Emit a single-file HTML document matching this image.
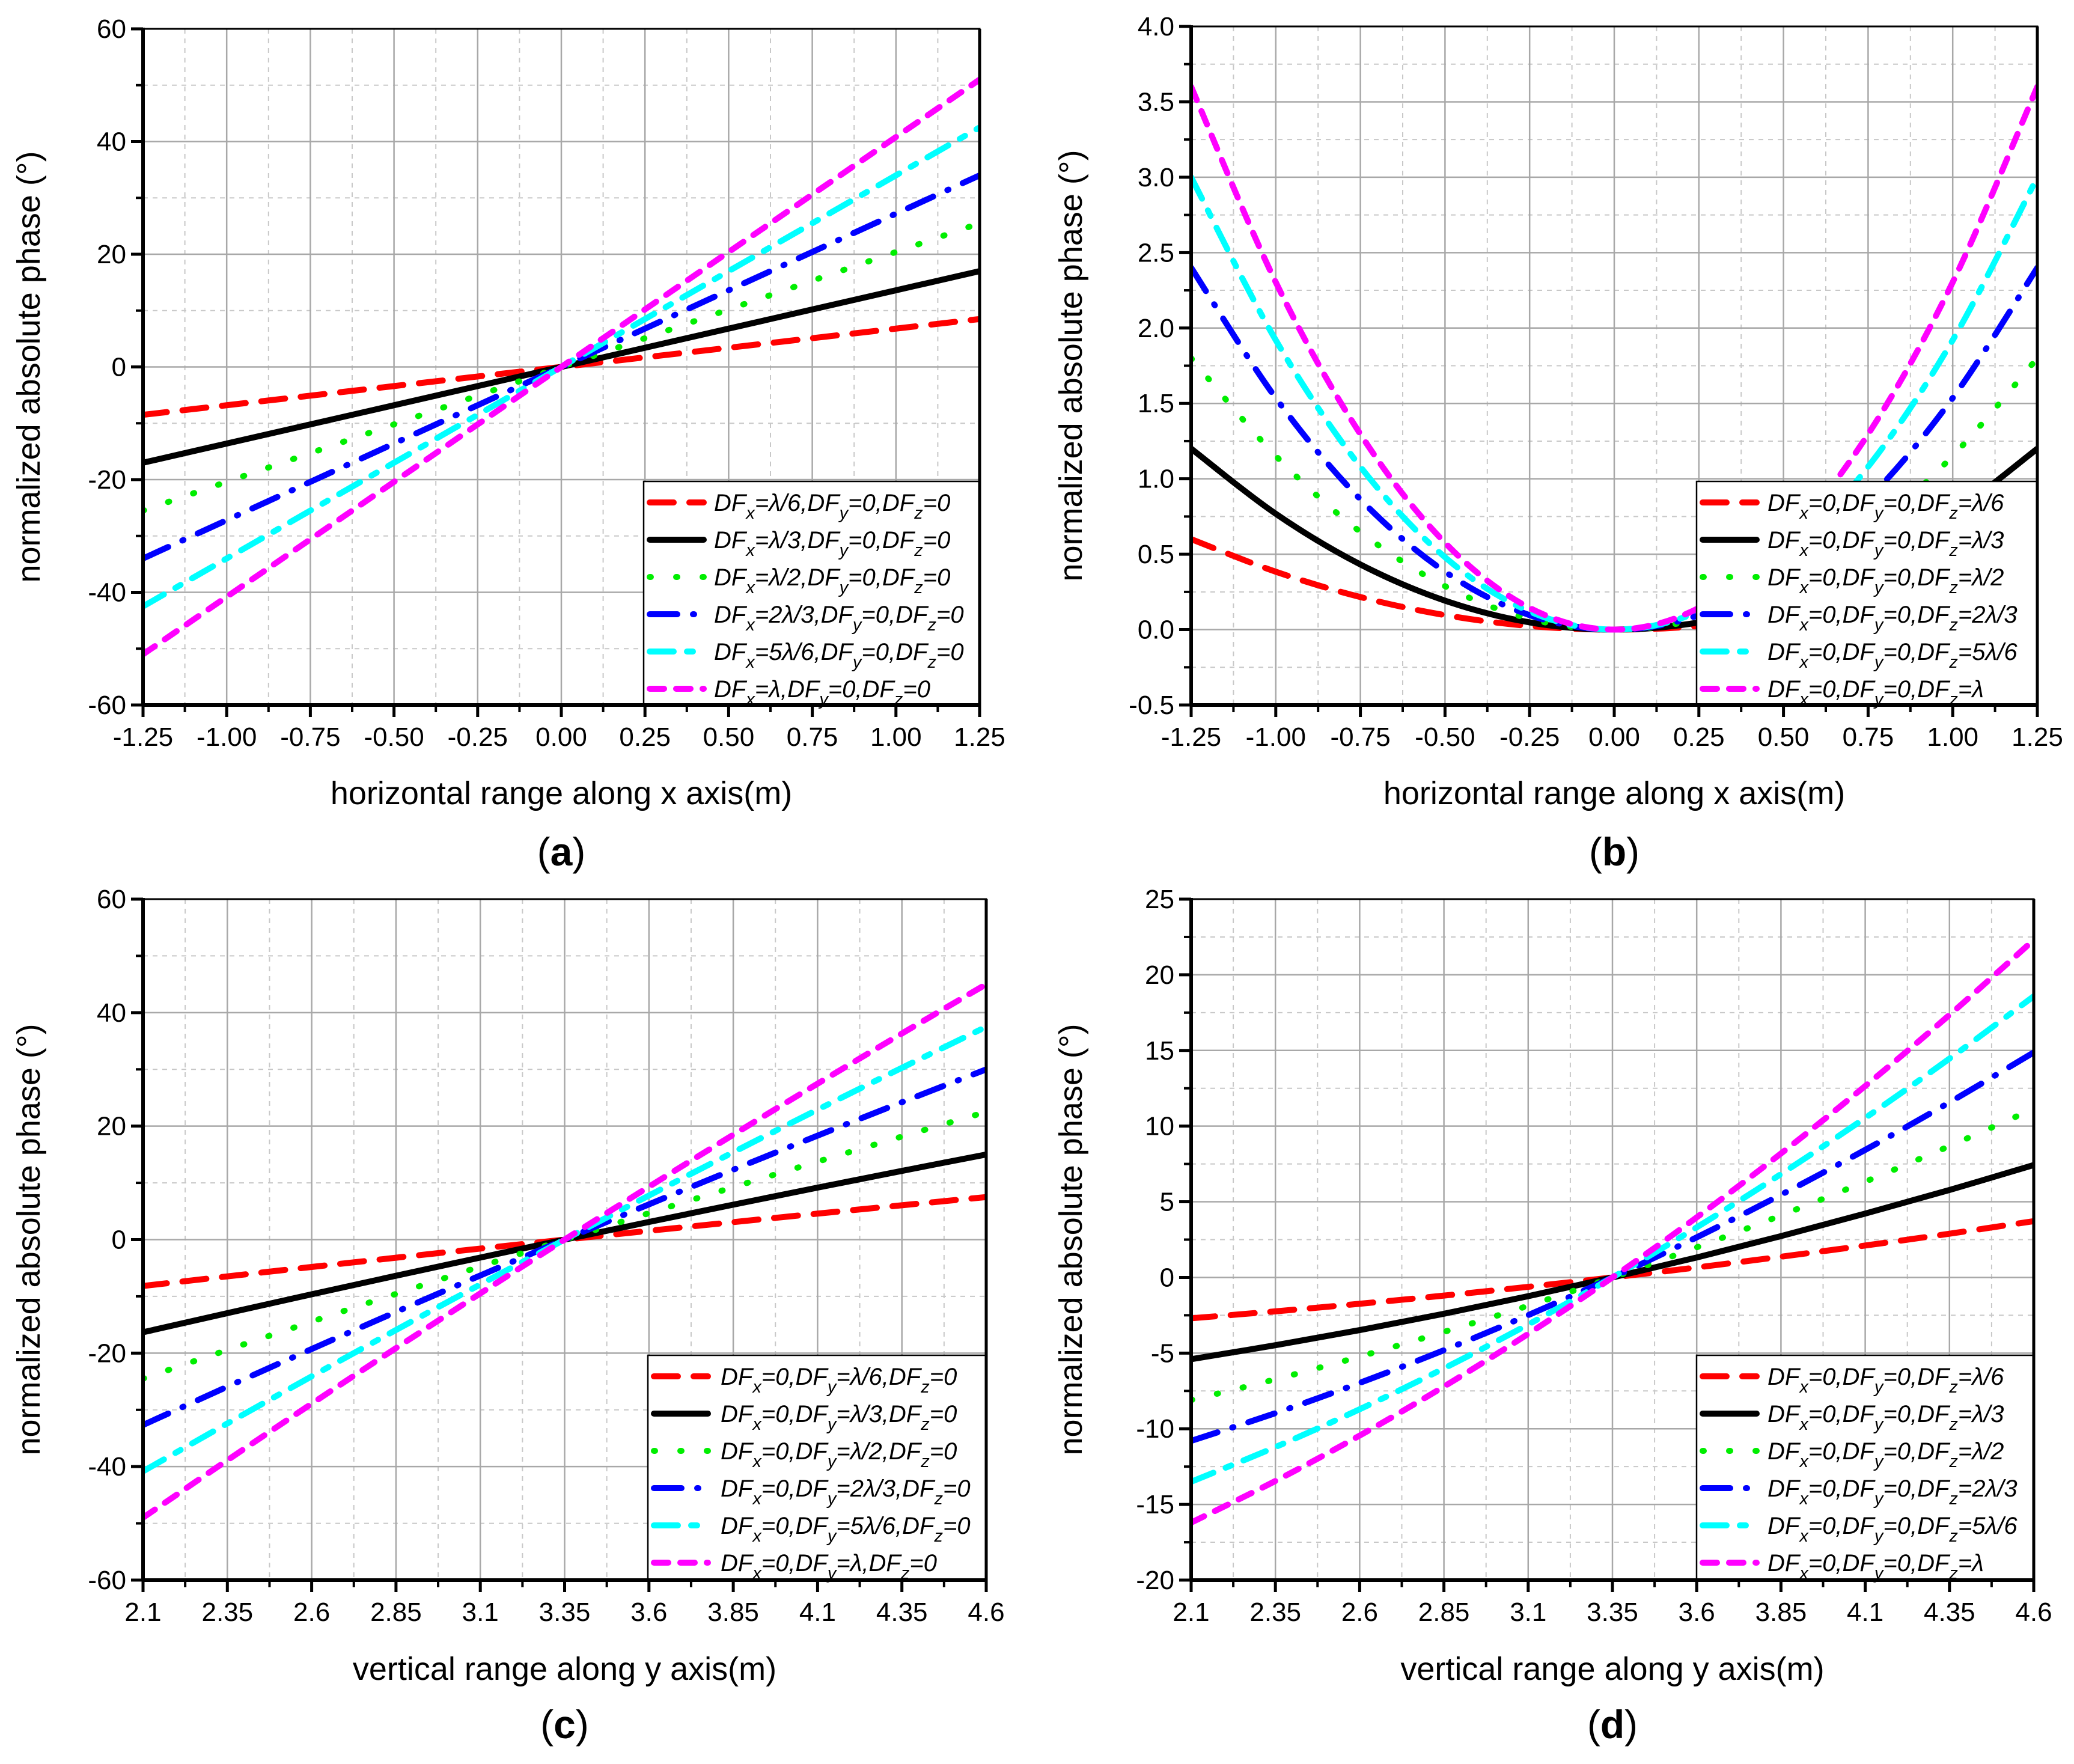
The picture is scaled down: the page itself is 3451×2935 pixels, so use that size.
<!DOCTYPE html>
<html><head><meta charset="utf-8"><style>
html,body{margin:0;padding:0;background:#fff}
svg{display:block}
text{font-family:"Liberation Sans",sans-serif;fill:#000}
</style></head><body>
<svg id="fig" width="3451" height="2935" viewBox="0 0 3451 2935" xmlns="http://www.w3.org/2000/svg"></svg>
<script>
// ---- data ----
const xA = [-1.25,-1,-0.75,-0.5,-0.25,0,0.25,0.5,0.75,1,1.25];
const xC = [2.1,2.35,2.6,2.85,3.1,3.35,3.6,3.85,4.1,4.35,4.6];
const a1=[-8.5,-6.8,-5.1,-3.4,-1.7,0,1.7,3.4,5.1,6.8,8.5];
const a2=[-17,-13.6,-10.2,-6.8,-3.4,0,3.4,6.8,10.2,13.6,17];
const a3=[-25.5,-20.4,-15.3,-10.2,-5.1,0,5.1,10.2,15.3,20.4,25.5];
const a4=[-34,-27.2,-20.4,-13.6,-6.8,0,6.8,13.6,20.4,27.2,34];
const a5=[-42.5,-34,-25.5,-17,-8.5,0,8.5,17,25.5,34,42.5];
const a6=[-51,-40.8,-30.6,-20.4,-10.2,0,10.2,20.4,30.6,40.8,51];
const b1=[0.6,0.384,0.216,0.096,0.024,0,0.024,0.096,0.216,0.384,0.6];
const b2=[1.2,0.768,0.432,0.192,0.048,0,0.048,0.192,0.432,0.768,1.2];
const b3=[1.8,1.152,0.648,0.288,0.072,0,0.072,0.288,0.648,1.152,1.8];
const b4=[2.4,1.536,0.864,0.384,0.096,0,0.096,0.384,0.864,1.536,2.4];
const b5=[3.0,1.92,1.08,0.48,0.12,0,0.12,0.48,1.08,1.92,3.0];
const b6=[3.6,2.304,1.296,0.576,0.144,0,0.144,0.576,1.296,2.304,3.6];
const c1=[-8.17,-6.48,-4.82,-3.19,-1.58,0,1.55,3.08,4.58,6.05,7.5];
const c2=[-16.33,-12.96,-9.64,-6.37,-3.16,0,3.11,6.16,9.16,12.11,15];
const c3=[-24.5,-19.44,-14.46,-9.56,-4.74,0,4.66,9.24,13.74,18.16,22.5];
const c4=[-32.67,-25.92,-19.28,-12.75,-6.32,0,6.21,12.32,18.32,24.21,30];
const c5=[-40.83,-32.4,-24.1,-15.93,-7.9,0,7.77,15.4,22.9,30.27,37.5];
const c6=[-49,-38.88,-28.92,-19.12,-9.48,0,9.32,18.48,27.48,36.32,45];
const d1=[-2.7,-2.24,-1.74,-1.2,-0.62,0,0.66,1.37,2.11,2.89,3.72];
const d2=[-5.4,-4.48,-3.48,-2.4,-1.24,0,1.32,2.73,4.22,5.78,7.43];
const d3=[-8.1,-6.73,-5.23,-3.6,-1.87,0,1.99,4.1,6.33,8.68,11.15];
const d4=[-10.8,-8.97,-6.97,-4.81,-2.49,0,2.65,5.46,8.43,11.57,14.87];
const d5=[-13.5,-11.21,-8.71,-6.01,-3.11,0,3.31,6.83,10.54,14.46,18.58];
const d6=[-16.2,-13.45,-10.45,-7.21,-3.73,0,3.97,8.19,12.65,17.35,22.3];
const xTicksA=["-1.25","-1.00","-0.75","-0.50","-0.25","0.00","0.25","0.50","0.75","1.00","1.25"];
const xTicksC=["2.1","2.35","2.6","2.85","3.1","3.35","3.6","3.85","4.1","4.35","4.6"];
const yTicksA=["-60","-40","-20","0","20","40","60"];
const yTicksB=["-0.5","0.0","0.5","1.0","1.5","2.0","2.5","3.0","3.5","4.0"];
const yTicksD=["-20","-15","-10","-5","0","5","10","15","20","25"];
const fracs=["λ/6","λ/3","λ/2","2λ/3","5λ/6","λ"];

const NS="http://www.w3.org/2000/svg";
const svg=document.getElementById('fig');
function mk(tag,attrs,parent){const e=document.createElementNS(NS,tag);for(const k in attrs)e.setAttribute(k,attrs[k]);(parent||svg).appendChild(e);return e;}
const styles=[
 {c:"#ff0000",d:"40 26"},
 {c:"#000000",d:""},
 {c:"#00ee00",d:"2 42"},
 {c:"#0000ff",d:"46 26 2 26"},
 {c:"#00ffff",d:"40 22 10 22"},
 {c:"#ff00ff",d:"24 20"}];

function panel(cfg){
  const g=mk('g',{});
  
  
  const {L,R,T,B,xmin,xmax,ymin,ymax}=cfg;
  const sx=v=>L+(v-xmin)/(xmax-xmin)*(R-L);
  const sy=v=>B-(v-ymin)/(ymax-ymin)*(B-T);
  const nx=cfg.xt.length, ny=cfg.yt.length;
  const xv=i=>xmin+i*(xmax-xmin)/(nx-1);
  const yv=i=>ymin+i*(ymax-ymin)/(ny-1);
  for(let i=0;i<nx-1;i++){const x=sx(xv(i)+(xmax-xmin)/(nx-1)/2);mk('line',{x1:x,x2:x,y1:T,y2:B,stroke:"#c8c8c8","stroke-width":2,"stroke-dasharray":"8 8"},g);}
  for(let i=0;i<ny-1;i++){const y=sy(yv(i)+(ymax-ymin)/(ny-1)/2);mk('line',{x1:L,x2:R,y1:y,y2:y,stroke:"#c8c8c8","stroke-width":2,"stroke-dasharray":"8 8"},g);}
  for(let i=1;i<nx-1;i++){const x=sx(xv(i));mk('line',{x1:x,x2:x,y1:T,y2:B,stroke:"#a8a8a8","stroke-width":2.5},g);}
  for(let i=1;i<ny-1;i++){const y=sy(yv(i));mk('line',{x1:L,x2:R,y1:y,y2:y,stroke:"#a8a8a8","stroke-width":2.5},g);}
  const clip=mk('clipPath',{id:'clip'+cfg.id},g);mk('rect',{x:L,y:T,width:R-L,height:B-T},clip);
  cfg.series.forEach((s,k)=>{
    const pts=s.map((v,i)=>[sx(cfg.xs[i]),sy(v)]);
    let d="M"+pts[0][0]+","+pts[0][1];
    for(let i=0;i<pts.length-1;i++){
      const p0=pts[Math.max(0,i-1)],p1=pts[i],p2=pts[i+1],p3=pts[Math.min(pts.length-1,i+2)];
      const c1x=p1[0]+(p2[0]-p0[0])/6,c1y=p1[1]+(p2[1]-p0[1])/6;
      const c2x=p2[0]-(p3[0]-p1[0])/6,c2y=p2[1]-(p3[1]-p1[1])/6;
      d+=` C${c1x},${c1y} ${c2x},${c2y} ${p2[0]},${p2[1]}`;
    }
    const p=mk('path',{d:d,fill:"none",stroke:styles[k].c,"stroke-width":10,"stroke-linecap":"round","stroke-dasharray":styles[k].d,"clip-path":`url(#clip${cfg.id})`},g);
    
    
  });
  const lg=mk('g',{},g);
  
  
  mk('rect',{x:cfg.lx,y:cfg.ly,width:R-cfg.lx,height:B-cfg.ly,fill:"#fff",stroke:"#000","stroke-width":2.5},lg);
  fracs.forEach((f,k)=>{
    const y=cfg.ly+35+k*62;
    mk('line',{x1:cfg.lx+10,x2:cfg.lx+100,y1:y,y2:y,stroke:styles[k].c,"stroke-width":10,"stroke-linecap":"round","stroke-dasharray":styles[k].d},lg);
    const t=mk('text',{x:cfg.tx,y:y+14,"font-size":40,"font-style":"italic"},lg);
    
    
    const vals=cfg.legendVals(f);
    const parts=[["DF",0],["x",1],["="+vals[0]+",DF",0],["y",1],["="+vals[1]+",DF",0],["z",1],["="+vals[2],0]];
    parts.forEach(([s,sub])=>{const ts=mk('tspan',{},t);ts.textContent=s;if(sub){ts.setAttribute('dy',13);ts.setAttribute('font-size',29);}else if(s!=="DF"){ts.setAttribute('dy',-13);}});
  });
  mk('rect',{x:L,y:T,width:R-L,height:B-T,fill:"none",stroke:"#000","stroke-width":3},g);
  mk('line',{x1:L,x2:L,y1:T-2,y2:B+2,stroke:"#000","stroke-width":6},g);
  mk('line',{x1:L-2,x2:R+2,y1:B,y2:B,stroke:"#000","stroke-width":6},g);
  mk('line',{x1:R,x2:R,y1:T,y2:B,stroke:"#000","stroke-width":5},g);
  for(let i=0;i<nx;i++){const x=sx(xv(i));mk('line',{x1:x,x2:x,y1:B,y2:B+20,stroke:"#000","stroke-width":5},g);
    if(i<nx-1){const xm=sx(xv(i)+(xmax-xmin)/(nx-1)/2);mk('line',{x1:xm,x2:xm,y1:B,y2:B+12,stroke:"#000","stroke-width":4},g);}
    const t=mk('text',{x:x,y:B+68,"font-size":44,"text-anchor":"middle"},g);t.textContent=cfg.xt[i];
    }
  for(let i=0;i<ny;i++){const y=sy(yv(i));mk('line',{x1:L-20,x2:L,y1:y,y2:y,stroke:"#000","stroke-width":5},g);
    if(i<ny-1){const ym=sy(yv(i)+(ymax-ymin)/(ny-1)/2);mk('line',{x1:L-12,x2:L,y1:ym,y2:ym,stroke:"#000","stroke-width":4},g);}
    const t=mk('text',{x:L-28,y:y+15,"font-size":44,"text-anchor":"end"},g);t.textContent=cfg.yt[i];
    }
  const xt=mk('text',{x:(L+R)/2,y:cfg.xtY,"font-size":54,"text-anchor":"middle"},g);xt.textContent=cfg.xTitle;
  
  const yt=mk('text',{x:0,y:0,"font-size":54,"text-anchor":"middle",transform:`translate(${cfg.ytX},${(T+B)/2}) rotate(-90)`},g);yt.textContent="normalized absolute phase (°)";
  
  const pl=mk('text',{x:(L+R)/2,y:cfg.plY,"font-size":66,"text-anchor":"middle","font-family":"Liberation Serif, serif"},g);
  pl.innerHTML='(<tspan font-weight="bold">'+cfg.id+'</tspan>)';
  
}
panel({id:'a',name:'panel-a',L:238,R:1630,T:48,B:1173,xmin:-1.25,xmax:1.25,ymin:-60,ymax:60,xs:xA,xt:xTicksA,yt:yTicksA,series:[a1,a2,a3,a4,a5,a6],
  lx:1071,ly:801,tx:1188,legendVals:f=>[f,"0","0"],xTitle:"horizontal range along x axis(m)",xtY:1338,ytX:66,plY:1440});
panel({id:'b',name:'panel-b',L:1982,R:3390,T:44,B:1173,xmin:-1.25,xmax:1.25,ymin:-0.5,ymax:4.0,xs:xA,xt:xTicksA,yt:yTicksB,series:[b1,b2,b3,b4,b5,b6],
  lx:2823,ly:801,tx:2941,legendVals:f=>["0","0",f],xTitle:"horizontal range along x axis(m)",xtY:1338,ytX:1800,plY:1440});
panel({id:'c',name:'panel-c',L:238,R:1641,T:1496,B:2629,xmin:2.1,xmax:4.6,ymin:-60,ymax:60,xs:xC,xt:xTicksC,yt:yTicksA,series:[c1,c2,c3,c4,c5,c6],
  lx:1078,ly:2255,tx:1199,legendVals:f=>["0",f,"0"],xTitle:"vertical range along y axis(m)",xtY:2795,ytX:66,plY:2892});
panel({id:'d',name:'panel-d',L:1982,R:3384,T:1496,B:2629,xmin:2.1,xmax:4.6,ymin:-20,ymax:25,xs:xC,xt:xTicksC,yt:yTicksD,series:[d1,d2,d3,d4,d5,d6],
  lx:2823,ly:2255,tx:2941,legendVals:f=>["0","0",f],xTitle:"vertical range along y axis(m)",xtY:2795,ytX:1800,plY:2892});
</script>
</body></html>
